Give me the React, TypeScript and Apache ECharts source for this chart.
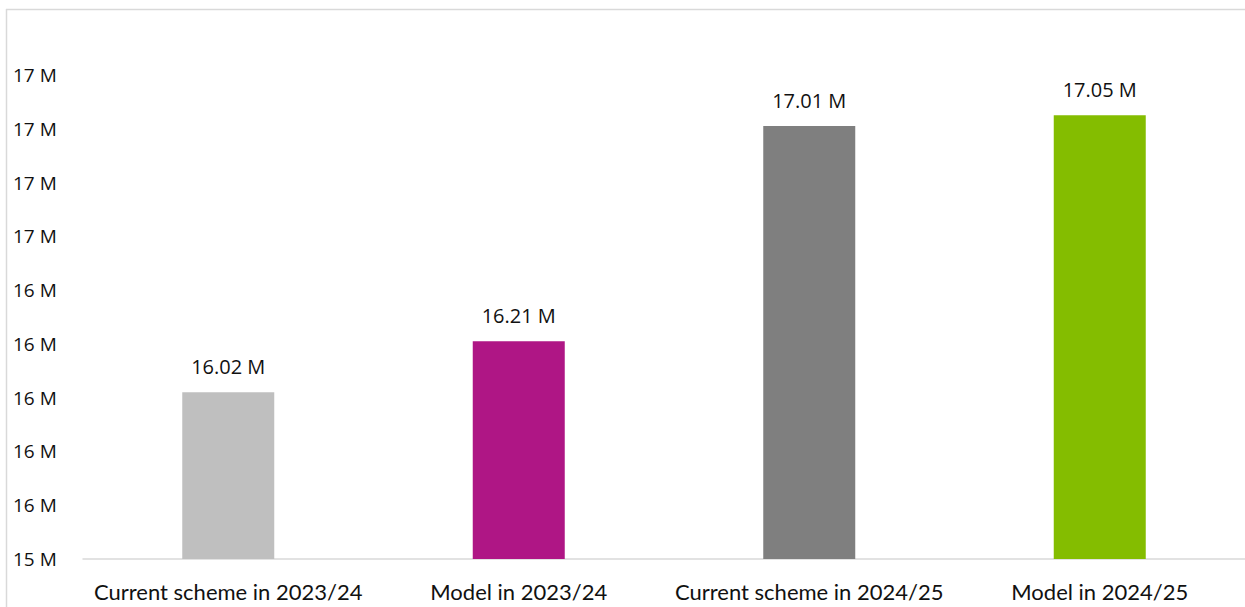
import React, { useEffect, useRef } from "react";
import * as echarts from "echarts";

const categories = [
  "Current scheme in 2023/24",
  "Model in 2023/24",
  "Current scheme in 2024/25",
  "Model in 2024/25",
];
const values = [16.02, 16.21, 17.01, 17.05];
const barColors = ["#BFBFBF", "#AF1685", "#7F7F7F", "#84BD00"];
const yMin = 15.4;
const yMax = 17.2;
const yStep = 0.2;

export default function App() {
  const ref = useRef<HTMLDivElement>(null);
  useEffect(() => {
    if (!ref.current) return;
    const chart = echarts.init(ref.current, undefined, { renderer: "svg" });
    chart.setOption({
      animation: false,
      backgroundColor: "#ffffff",
      grid: { left: 83, top: 75, width: 1164, height: 484, containLabel: false },
      graphic: [
        { type: "line", shape: { x1: 6.5, y1: 9, x2: 6.5, y2: 607 }, style: { stroke: "#D9D9D9", lineWidth: 1.5 } },
        { type: "line", shape: { x1: 6, y1: 9.5, x2: 1245, y2: 9.5 }, style: { stroke: "#D9D9D9", lineWidth: 1.5 } },
      ],
      xAxis: {
        type: "category",
        data: categories,
        axisLine: { show: true, lineStyle: { color: "#D9D9D9", width: 1.5 } },
        axisTick: { show: false },
        axisLabel: {
          color: "#111111",
          fontFamily: "Lato",
          fontSize: 22,
          margin: 21,
          interval: 0,
        },
      },
      yAxis: {
        type: "value",
        min: yMin,
        max: yMax,
        interval: yStep,
        splitLine: { show: false },
        axisLine: { show: false },
        axisTick: { show: false },
        axisLabel: {
          color: "#111111",
          fontFamily: "Open Sans",
          fontSize: 19,
          align: "left",
          margin: 70,
          formatter: (v: number) => Math.round(v) + " M",
        },
      },
      series: [
        {
          type: "bar",
          barWidth: 92,
          data: values.map((v, i) => ({ value: v, itemStyle: { color: barColors[i] } })),
          label: {
            show: true,
            position: "top",
            distance: 16,
            color: "#111111",
            fontFamily: "Open Sans",
            fontSize: 20,
            formatter: (p: any) => p.value.toFixed(2) + " M",
          },
        },
      ],
    });
    return () => chart.dispose();
  }, []);
  return (
    <div
      ref={ref}
      style={{ position: "absolute", left: 0, top: 0, width: 1245, height: 607 }}
    />
  );
}
